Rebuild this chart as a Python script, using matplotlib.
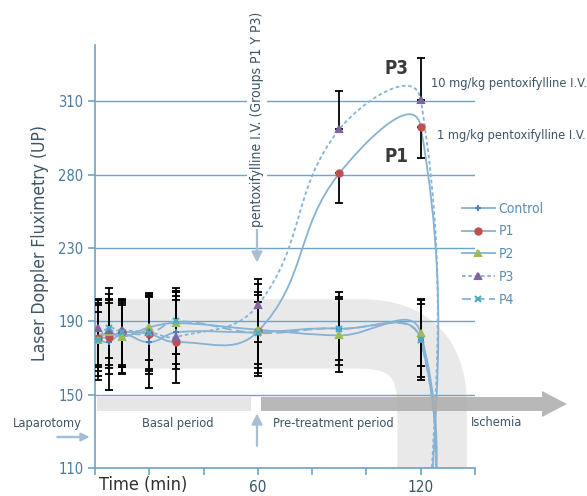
import numpy as np
import matplotlib
matplotlib.use("Agg")
import matplotlib.pyplot as plt
from matplotlib import font_manager as fm
from matplotlib.path import Path
from matplotlib.patches import PathPatch, Rectangle, FancyArrow
from matplotlib.lines import Line2D

# ---------------- data ----------------
times = [1, 5, 10, 20, 30, 60, 90, 120, 122]          # last point = ischemia
control = [180, 178.7, 183, 178.6, 184, 184, 186, 180, 0]
p1 = [181, 181.4, 184, 183, 178.6, 184.5, 280.5, 299.6, 0]
p2 = [180, 184, 181.5, 186.7, 189, 185.4, 182.3, 183.6, 0]
p3 = [186.4, 185, 185, 184, 181.5, 198.8, 298.5, 310.7, 0]
p4 = [180, 186.4, 184, 183.4, 190, 183.6, 186, 179.6, 0]

control_err = [22, 26, 18, 25, 20, 22, 17, 22]
p1_err_lo = [18, 20, 22, 20, 22, 20, 20, 13]
p1_err_hi = [18, 20, 15, 20, 28, 20, 0, 0]
p2_err = [15, 18, 20, 18, 17, 25, 20, 18]
p3_err_lo = [20, 15, 20, 20, 15, 20, 0, 0]
p3_err_hi = [15, 15, 15, 20, 20, 14, 15.5, 16.8]
p4_err = [20, 22, 18, 22, 18, 17, 20, 20]

y_ticks = [110, 150, 190, 230, 280, 310]
x_ticks = [0, 20, 40, 60, 80, 100, 120, 140]
x_labels = ["", "", "", "60", "", "", "120", ""]

# ---------------- fonts ----------------
names = {f.name for f in fm.fontManager.ttflist}
if "Liberation Sans Narrow" in names:
    plt.rcParams["font.family"] = ["Liberation Sans Narrow", "DejaVu Sans"]
    FS = 1.12
else:
    plt.rcParams["font.family"] = ["DejaVu Sans"]
    if any(f.name == "DejaVu Sans" and "condensed" in str(f.stretch) for f in fm.fontManager.ttflist):
        plt.rcParams["font.stretch"] = "condensed"
        FS = 1.0
    else:
        FS = 0.85

# ---------------- helpers ----------------
W, H = 587, 496
YT = np.array(y_ticks, float)
YI = np.arange(len(YT), dtype=float)

def fwd(v):
    v = np.asarray(v, float)
    u = np.interp(v, YT, YI)
    u = np.where(v < YT[0], (v - YT[0]) / (YT[1] - YT[0]), u)
    u = np.where(v > YT[-1], YI[-1] + (v - YT[-1]) / (YT[-1] - YT[-2]), u)
    return u

def inv(u):
    u = np.asarray(u, float)
    v = np.interp(u, YI, YT)
    v = np.where(u < 0, YT[0] + u * (YT[1] - YT[0]), v)
    v = np.where(u > YI[-1], YT[-1] + (u - YI[-1]) * (YT[-1] - YT[-2]), v)
    return v

SX = 380 / 140.0   # px per minute
SU = 73.4          # px per tick interval
K = 0.4            # smoothing tension

def smooth_path(x, y):
    X = np.asarray(x, float) * SX
    U = fwd(y) * SU
    P = np.column_stack([X, U])
    n = len(P)
    D = []
    for i in range(n):
        v = P[min(i + 1, n - 1)] - P[max(i - 1, 0)]
        D.append(v / np.hypot(*v))
    verts = [P[0]]
    codes = [Path.MOVETO]
    for i in range(n - 1):
        L = np.hypot(*(P[i + 1] - P[i]))
        c1 = P[i] + D[i] * L * K
        c2 = P[i + 1] - D[i + 1] * L * K
        verts += [c1, c2, P[i + 1]]
        codes += [Path.CURVE4] * 3
    V = np.array(verts)
    V[:, 0] = V[:, 0] / SX
    V[:, 1] = inv(V[:, 1] / SU)
    return Path(V, codes)

def fx(px):
    return px / W

def fy(py):
    return 1 - py / H

# ---------------- figure ----------------
fig = plt.figure(figsize=(W / 100, H / 100), dpi=100)
ax = fig.add_axes([fx(95), fy(468), (475 - 95) / W, (468 - 45) / H])
ax.set_yscale("function", functions=(fwd, inv))
ax.set_xlim(0, 140)
ax.set_ylim(110, 333)

axis_col = "#6fa3c7"
tick_col = "#4a7b9d"
text_col = "#3d5566"
line_col = "#86b2d4"

for s in ["top", "right"]:
    ax.spines[s].set_visible(False)
for s in ["left", "bottom"]:
    ax.spines[s].set_color(axis_col)
    ax.spines[s].set_linewidth(1.2)

ax.set_yticks(y_ticks)
ax.set_yticklabels([str(v) for v in y_ticks])
ax.set_xticks(x_ticks)
ax.set_xticklabels(x_labels)
ax.tick_params(axis="both", colors=axis_col, labelcolor=tick_col, labelsize=10.5 * FS,
               length=5, width=1.2, direction="out")
ax.tick_params(axis="x", labelcolor=text_col, labelsize=11 * FS)
ax.yaxis.grid(True, color=axis_col, lw=1.0, zorder=1)
ax.set_axisbelow(True)

# decorative gray band (background)
band = Path([(0.0, 0.317), (0.70, 0.317), (0.887, 0.317), (0.887, 0.15), (0.887, -0.1)],
            [Path.MOVETO, Path.LINETO, Path.CURVE3, Path.CURVE3, Path.LINETO])
ax.add_patch(PathPatch(band, transform=ax.transAxes, fill=False, lw=50,
                       edgecolor="#cfcfcf", alpha=0.45, joinstyle="round",
                       capstyle="butt", zorder=0))

# period bars
ax.add_patch(Rectangle((0.005, 0.134), 0.405, 0.034, transform=ax.transAxes,
                       facecolor="#e6e6e6", edgecolor="none", zorder=0.5))
arr = FancyArrow(fx(261), fy(404), fx(542) - fx(261), 0, width=14 / H,
                 head_width=26 / H, head_length=25 / W, length_includes_head=False,
                 transform=fig.transFigure, facecolor="#acacac", edgecolor="none",
                 alpha=0.85, zorder=0.5)
fig.patches.append(arr)

# curves
styles = [
    ("Control", control, "-", "+", "#4f81bd"),
    ("P1", p1, "-", "o", "#c0504d"),
    ("P2", p2, "-", "^", "#9bbb59"),
    ("P3", p3, (0, (2, 1.5)), "^", "#8064a2"),
    ("P4", p4, (0, (5, 2.5)), "x", "#4bacc6"),
]
for name, vals, ls, mk, mc in styles:
    ax.add_patch(PathPatch(smooth_path(times, vals), fill=False, edgecolor=line_col,
                           lw=1.3, linestyle=ls, zorder=2))

# error bars
errs = [
    (control, [control_err, control_err]),
    (p1, [p1_err_lo, p1_err_hi]),
    (p2, [p2_err, p2_err]),
    (p3, [p3_err_lo, p3_err_hi]),
    (p4, [p4_err, p4_err]),
]
for vals, (lo, hi) in errs:
    ax.errorbar(times[:8], vals[:8], yerr=[lo, hi], fmt="none", ecolor="black",
                elinewidth=1.3, capsize=3, capthick=1.3, zorder=3)

# markers
for name, vals, ls, mk, mc in styles:
    ax.plot(times[:8], vals[:8], linestyle="none", marker=mk, color=mc,
            markersize=4.5, mew=1.5, zorder=4)

# legend
handles = [Line2D([], [], color=line_col, lw=1.3, linestyle=ls, marker=mk,
                  markerfacecolor=mc, markeredgecolor=mc, markersize=4.5, mew=1.5)
           for name, vals, ls, mk, mc in styles]
leg = fig.legend(handles, [s[0] for s in styles], loc="upper left",
                 bbox_to_anchor=(fx(456), fy(196)), borderaxespad=0, frameon=False,
                 fontsize=10 * FS, handlelength=2.4, labelspacing=0.64,
                 handletextpad=0.25)
for t in leg.get_texts():
    t.set_color("#5b8db3")

# axis labels & annotations
fig.text(fx(40), fy(243), "Laser Doppler Fluximetry (UP)", rotation=90,
         ha="center", va="center", fontsize=12.5 * FS, color=text_col)
fig.text(fx(143), fy(485), "Time (min)", ha="center", va="center",
         fontsize=13 * FS, color="#2f2f2f")

fig.text(fx(257), fy(119), "pentoxifylline I.V. (Groups P1 Y P3)", rotation=90,
         ha="center", va="center", fontsize=10 * FS, color=text_col,
         bbox=dict(facecolor="white", edgecolor="none", pad=2), zorder=5)
fig.patches.append(FancyArrow(fx(257), fy(228), 0, -(33 / H), width=0.0015,
                              head_width=10 / W, head_length=10 / H,
                              length_includes_head=True, transform=fig.transFigure,
                              color="#a9bfcf"))
fig.patches.append(FancyArrow(fx(257), fy(446), 0, 31 / H, width=0.0015,
                              head_width=10 / W, head_length=10 / H,
                              length_includes_head=True, transform=fig.transFigure,
                              color="#a9bfcf"))
fig.patches.append(FancyArrow(fx(57), fy(437), 31 / W, 0, width=0.002,
                              head_width=8 / H, head_length=8 / W,
                              length_includes_head=True, transform=fig.transFigure,
                              color="#9fbfd6"))

fig.text(fx(409), fy(68), "P3", ha="right", va="center", fontsize=13.5 * FS,
         fontweight="bold", color="#3a3a3a")
fig.text(fx(409), fy(157), "P1", ha="right", va="center", fontsize=13.5 * FS,
         fontweight="bold", color="#3a3a3a")
fig.text(fx(431), fy(83), "10 mg/kg pentoxifylline I.V.", ha="left", va="center",
         fontsize=9.2 * FS, color=text_col)
fig.text(fx(437), fy(136), "1 mg/kg pentoxifylline I.V.", ha="left", va="center",
         fontsize=9.2 * FS, color=text_col)

for label, px in [("Laparotomy", 47), ("Basal period", 178),
                  ("Pre-treatment period", 333), ("Ischemia", 497)]:
    fig.text(fx(px), fy(423), label, ha="center", va="center", fontsize=9.2 * FS,
             color=text_col)

fig.savefig("out.png", dpi=100)
